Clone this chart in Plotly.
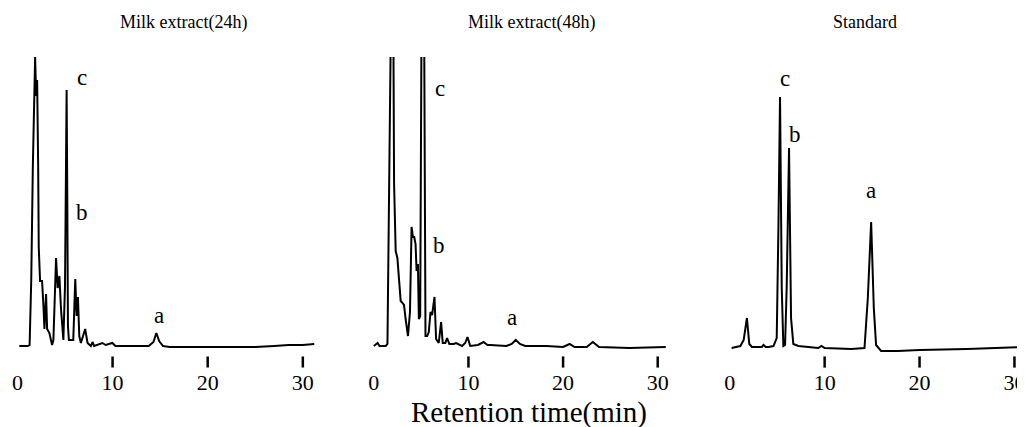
import plotly.graph_objects as go

# ---------------- data (retention time in min, detector response in arbitrary units) -------------
t_24h = [0.2, 0.8, 1.1, 1.28, 1.45, 1.62, 1.76, 1.86, 1.97, 2.07, 2.18, 2.24, 2.38, 2.59, 2.73, 2.84,
         3.01, 3.12, 3.36, 3.64, 3.78, 3.99, 4.06, 4.23, 4.41, 4.58, 4.76, 4.83, 5.0, 5.1, 5.17, 5.24,
         5.31, 5.41, 5.63, 5.87, 6.08, 6.22, 6.36, 6.5, 6.67, 7.12, 7.37, 7.72, 7.89, 8.06, 8.93, 9.28,
         9.98, 10.3, 12.0, 13.8, 14.3, 14.6, 14.9, 15.3, 16.0, 20.0, 25.0, 27.0, 28.5, 30.0, 31.2]
y_24h = [0, 0, 0, 1, 65, 180, 265, 289, 250, 266, 180, 99, 65, 65, 41, 17,
         52, 17, 13, 1, 6, 64, 88, 58, 70, 37, 6, 6, 60, 200, 256, 150,
         20, 6, 6, 6, 67, 30, 49, 10, 3, 17, 3, 0, 4, 0, 3, 1,
         3, 0, 0, 0, 4, 13, 5, 0, -1, -1, -1, 0, 1, 1, 2]

t_48h = [0.0, 0.4, 0.6, 1.26, 1.44, 1.61, 1.79, 1.93, 2.07, 2.14, 2.31, 2.49, 2.66, 2.84, 2.94, 3.19,
         3.36, 3.61, 3.82, 3.99, 4.13, 4.27, 4.41, 4.52, 4.66, 4.76, 4.9, 5.04, 5.18, 5.32, 5.46, 5.64,
         5.81, 5.99, 6.16, 6.41, 6.58, 6.86, 7.11, 7.28, 7.56, 7.74, 7.98, 8.44, 8.69, 9.32, 9.66, 9.9,
         10.19, 11.0, 11.6, 12.0, 12.3, 14.0, 14.57, 15.0, 15.44, 16.0, 18.25, 20.0, 20.7, 21.2, 22.5,
         23.14, 23.8, 27.0, 30.85]
y_48h = [0, 3, 0, 0, 2, 163, 310, 320, 310, 163, 95, 88, 61, 45, 44, 41,
         27, 10, 34, 119, 109, 109, 102, 75, 82, 27, 30, 320, 330, 320, 10, 10,
         14, 34, 31, 49, 7, 3, 24, 3, 3, 8, 2, 2, 3, 0, 3, 9,
         0, 1, 4, 1, 1, 0, 2, 6, 2, 0, 0, -1, 2, -1, -1,
         4, -1, -2, -1]

t_std = [0.2, 1.12, 1.47, 1.81, 2.06, 2.34, 3.38, 3.56, 3.8, 4.08, 4.61, 4.95, 5.13, 5.3, 5.48, 5.65,
         5.83, 6.0, 6.25, 6.46, 6.7, 7.23, 9.32, 9.67, 10.0, 12.8, 14.2, 14.55, 14.9, 15.18, 15.42,
         15.95, 17.7, 20.0, 25.0, 28.0, 30.8]
y_std = [0, 2, 8, 30, 4, 1, 1, 3, 1, 1, 2, 10, 120, 251, 60, 2,
         3, 60, 200, 30, 4, 2, 0, 2, 0, -1, 0, 50, 126, 40, 3,
         -3, -3, -2, -1, 0, 1]

panel_titles = ["Milk extract(24h)", "Milk extract(48h)", "Standard"]
tick_vals = [0, 10, 20, 30]
tick_text = ["0", "10", "20", "30"]
tick_mark_vals = [10, 20, 30]
peak_names = ["a", "b", "c"]
# label anchor positions (time, response) for a, b, c in each panel
label_t = [[14.9, 6.75, 6.84], [14.6, 6.93, 7.04], [14.9, 6.9, 5.86]]
label_y = [[31, 134, 269], [29, 101, 258], [158, 214, 270]]
x_title = "Retention time(min)"

# ---------------- figure ----------------
W, H = 1025, 427
OFF = 8  # the page body offsets the figure by 8 px; positions below are page pixels
serif = "Liberation Serif"


def px_x(p):
    return (p - OFF) / W


def px_y(p):
    return (H - (p - OFF)) / H


fig = go.Figure()
series = [(t_24h, y_24h), (t_48h, y_48h), (t_std, y_std)]
for i, (tx, ty) in enumerate(series):
    sfx = "" if i == 0 else str(i + 1)
    fig.add_trace(go.Scatter(x=tx, y=ty, mode="lines", xaxis="x" + sfx, yaxis="y" + sfx,
                             line=dict(color="black", width=2), showlegend=False,
                             hoverinfo="skip"))

# page-pixel layout of each panel; the y range reaches below the baseline so that the
# short tick marks (drawn as markers) sit inside the plotting area
x_ranges = [[-0.3, 31.5], [-0.3, 31.5], [-0.3, 30.8]]
x_dom_px = [[11.6, 315.9], [370.1, 672.8], [728.1, 1025.0]]
y_ranges = [[-26, 289], [-26, 289], [-24, 291]]
y_dom = [px_y(372), px_y(57)]
tick_y = [-16, -16, -14]
for i in range(3):
    sfx = "" if i == 0 else str(i + 1)
    fig.add_trace(go.Scatter(x=tick_mark_vals, y=[tick_y[i]] * len(tick_mark_vals),
                             mode="markers", xaxis="x" + sfx, yaxis="y" + sfx,
                             marker=dict(symbol="line-ns", size=8, color="black",
                                         line=dict(color="black", width=2.5)),
                             showlegend=False, hoverinfo="skip"))

layout = dict(width=W, height=H, autosize=False, margin=dict(l=0, r=0, t=0, b=0),
              paper_bgcolor="white", plot_bgcolor="white", showlegend=False)
for i in range(3):
    sfx = "" if i == 0 else str(i + 1)
    dom = [max(0.0, px_x(x_dom_px[i][0])), min(1.0, px_x(x_dom_px[i][1]))]
    layout["xaxis" + sfx] = dict(
        domain=dom, range=x_ranges[i], anchor="y" + sfx, showgrid=False, zeroline=False,
        showline=False, tickmode="array", tickvals=tick_vals, ticktext=tick_text, ticks="",
        tickfont=dict(family=serif, size=22, color="black"), ticklabelstandoff=-5,
        ticklabeloverflow="allow", fixedrange=True)
    layout["yaxis" + sfx] = dict(domain=y_dom, range=y_ranges[i], anchor="x" + sfx,
                                 visible=False, fixedrange=True)
fig.update_layout(**layout)

annotations = []
title_cx = [182, 532, 867]
for i in range(3):
    annotations.append(dict(text=panel_titles[i], xref="paper", yref="paper",
                            x=px_x(title_cx[i]), y=px_y(22), showarrow=False,
                            xanchor="center", yanchor="middle",
                            font=dict(family=serif, size=18, color="black")))
    sfx = "" if i == 0 else str(i + 1)
    for j, name in enumerate(peak_names):
        annotations.append(dict(text=name, xref="x" + sfx, yref="y" + sfx,
                                x=label_t[i][j], y=label_y[i][j], showarrow=False,
                                xanchor="center", yanchor="middle",
                                font=dict(family=serif, size=23, color="black")))
annotations.append(dict(text=x_title, xref="paper", yref="paper", x=px_x(529), y=px_y(412),
                        showarrow=False, xanchor="center", yanchor="middle",
                        font=dict(family=serif, size=29, color="black")))
fig.update_layout(annotations=annotations)

fig.write_html("out.html")
